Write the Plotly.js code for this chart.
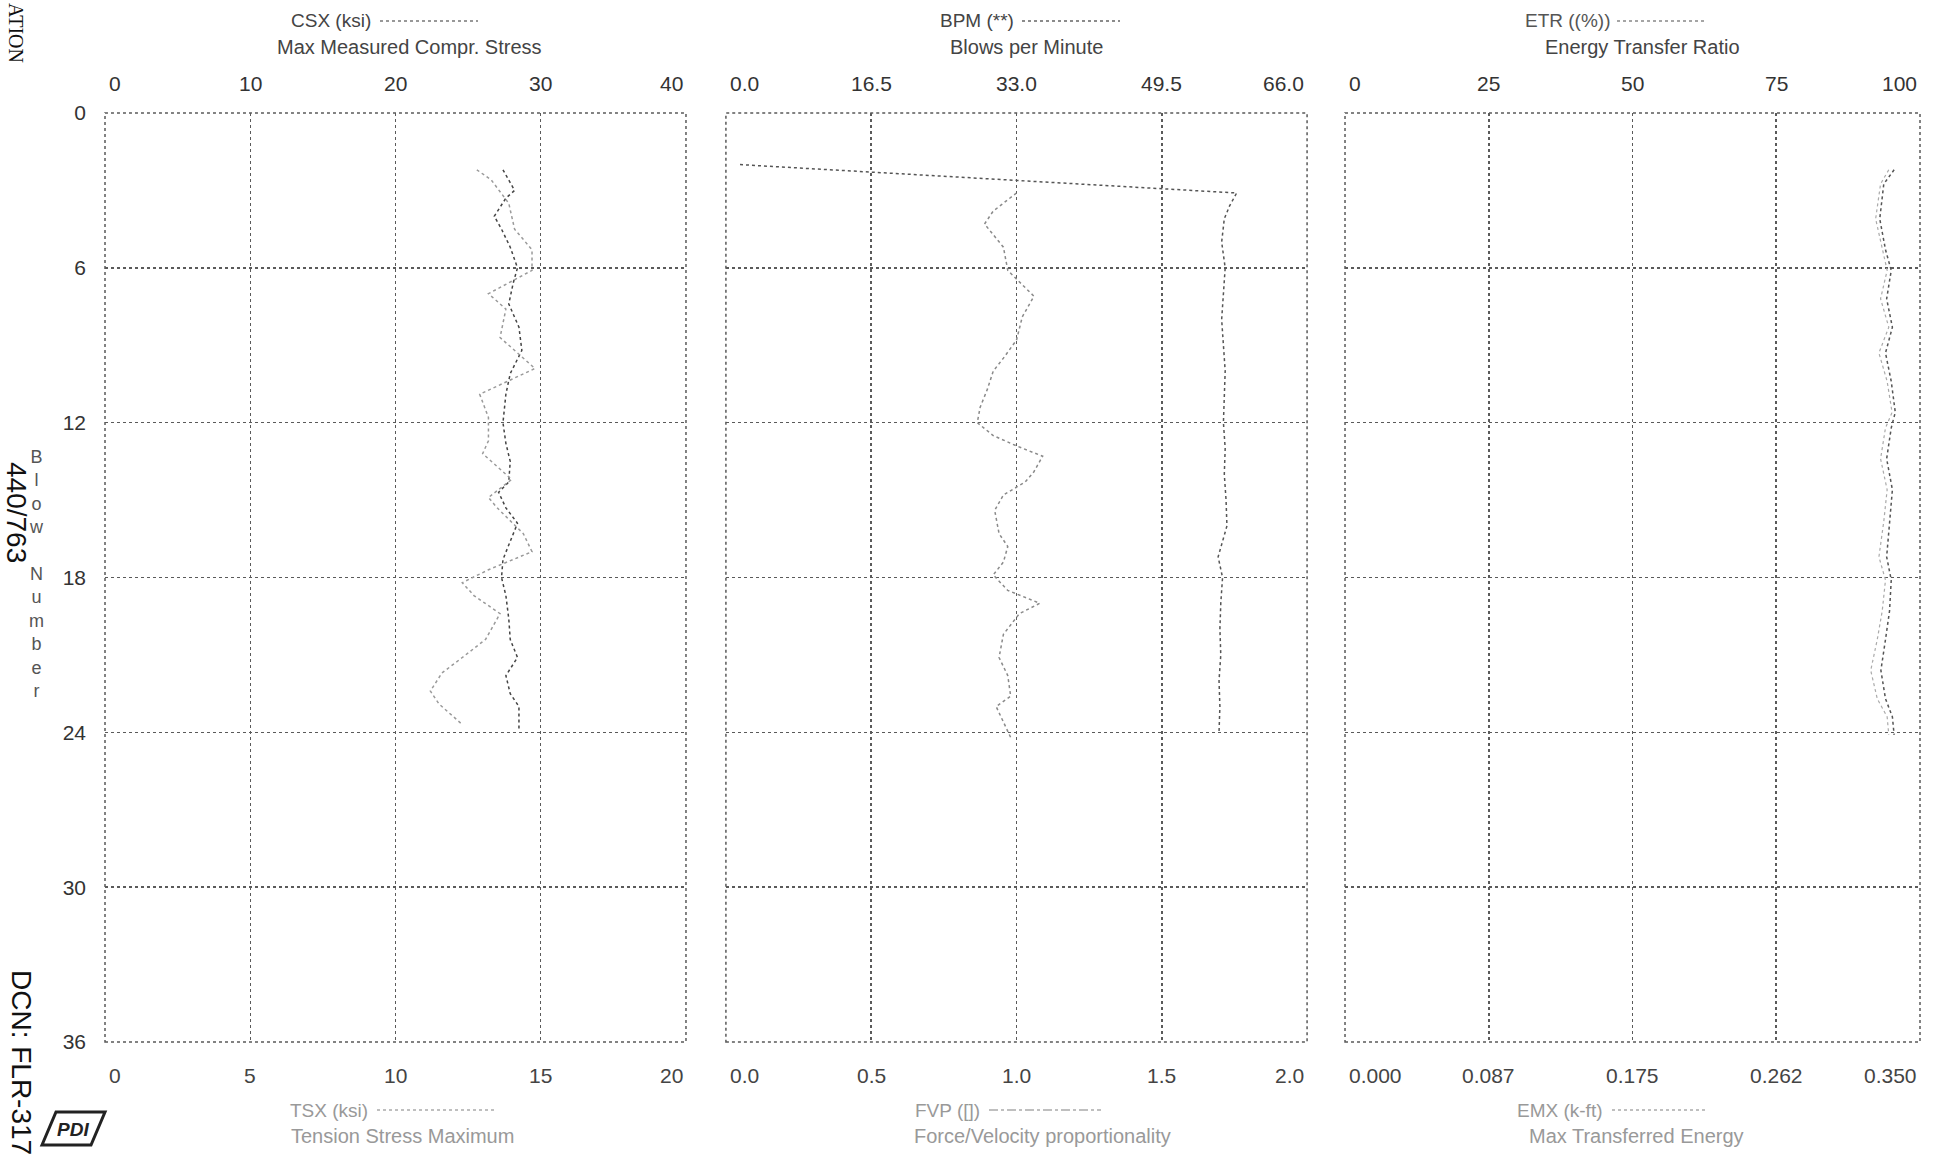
<!DOCTYPE html>
<html>
<head>
<meta charset="utf-8">
<script src="https://cdn.plot.ly/plotly-3.0.1.min.js"></script>
<style>html,body{margin:0;padding:0;background:#fff;}#chart{width:1940px;height:1157px;}</style>
</head>
<body>
<div id="chart"></div>
<script>
// ---- data ----
const csxBlow = [2.2,3.0,3.3,4.0,4.5,5.2,6.0,6.6,7.4,8.3,9.2,10.1,10.9,12.0,12.8,13.5,14.3,14.7,15.3,15.9,16.6,17.3,18.0,18.7,19.6,20.4,21.1,21.8,22.5,23.0,23.9];
const csxKsi  = [27.4,28.2,27.6,26.8,27.3,27.9,28.4,28.1,27.8,28.5,28.7,27.9,27.6,27.4,27.6,27.9,27.8,27.1,27.6,28.4,27.9,27.4,27.3,27.6,27.8,27.9,28.4,27.6,27.9,28.5,28.5];
const tsxBlow = [2.2,2.6,3.5,4.5,5.3,6.1,7.0,7.6,8.7,9.9,10.9,11.8,12.7,13.2,14.2,14.9,15.3,16.3,17.0,17.7,18.2,18.7,19.4,20.4,21.1,21.7,22.4,22.9,23.7];
const tsxKsi  = [12.8,13.3,13.9,14.1,14.7,14.7,13.2,13.8,13.6,14.8,12.9,13.2,13.2,13.0,14.0,13.2,13.5,14.4,14.7,13.2,12.3,12.7,13.6,13.1,12.3,11.6,11.2,11.5,12.3];
const bpmBlow = [2.0,3.1,3.6,4.1,5.0,6.0,7.0,8.0,9.0,10.0,11.0,12.0,13.0,14.0,15.0,16.0,17.2,18.0,19.0,20.0,21.0,22.0,23.0,24.0];
const bpmVal  = [1.6,58.0,57.2,56.6,56.3,56.7,56.5,56.3,56.5,56.7,56.6,56.5,56.7,56.6,56.8,56.9,55.9,56.4,56.2,56.1,56.2,56.0,56.1,56.0];
const fvpBlow = [3.1,3.8,4.3,5.2,6.1,7.1,7.9,8.8,9.5,10.0,10.7,11.4,12.0,12.5,12.9,13.3,13.9,14.3,14.8,15.4,16.3,16.8,17.4,17.9,18.5,19.0,19.4,20.2,21.1,21.8,22.6,23.0,23.6,24.2];
const fvpVal  = [1.00,0.92,0.89,0.955,0.97,1.06,1.02,1.00,0.955,0.92,0.90,0.875,0.865,0.92,1.00,1.09,1.06,1.03,0.955,0.925,0.94,0.97,0.955,0.92,0.97,1.08,1.01,0.955,0.94,0.97,0.98,0.93,0.955,0.98];
const etrBlow = [2.2,2.75,4.1,5.3,6.1,7.2,8.3,9.3,10.4,11.6,12.2,13.4,14.6,15.8,17.2,18.1,19.3,20.4,21.6,22.7,23.4,24.1];
const etrVal  = [95.5,93.7,93.0,94.0,95.0,94.2,95.2,94.0,95.0,95.7,95.0,94.2,95.2,94.7,94.2,95.0,94.7,94.0,93.2,94.0,95.2,95.5];
const emxVal  = [0.331,0.326,0.323,0.327,0.330,0.326,0.331,0.325,0.330,0.333,0.329,0.326,0.330,0.328,0.325,0.329,0.327,0.324,0.320,0.324,0.330,0.331];

const blowTicks = [0,6,12,18,24,30,36];
const csxTicks = [0,10,20,30,40];
const csxText  = ['0','10','20','30','40'];
const tsxTicks = [0,5,10,15,20];
const tsxText  = ['0','5','10','15','20'];
const bpmTicks = [0,16.5,33,49.5,66];
const bpmText  = ['0.0','16.5','33.0','49.5','66.0'];
const fvpTicks = [0,0.5,1,1.5,2];
const fvpText  = ['0.0','0.5','1.0','1.5','2.0'];
const etrTicks = [0,25,50,75,100];
const etrText  = ['0','25','50','75','100'];
const emxTicks = [0,0.0875,0.175,0.2625,0.35];
const emxText  = ['0.000','0.087','0.175','0.262','0.350'];

// ---- styling ----
const FONT = 'Liberation Sans, Arial, sans-serif';
const gridC = '#5a5a5a';

const traces = [
  {x: csxKsi, y: csxBlow, xaxis: 'x', yaxis: 'y', mode: 'lines', line: {color: '#444', width: 1.5, dash: 'dot'}},
  {x: tsxKsi, y: tsxBlow, xaxis: 'x4', yaxis: 'y', mode: 'lines', line: {color: '#9a9a9a', width: 1.5, dash: 'dot'}},
  {x: bpmVal, y: bpmBlow, xaxis: 'x2', yaxis: 'y2', mode: 'lines', line: {color: '#555', width: 1.5, dash: 'dot'}},
  {x: fvpVal, y: fvpBlow, xaxis: 'x5', yaxis: 'y2', mode: 'lines', line: {color: '#8a8a8a', width: 1.5, dash: 'dot'}},
  {x: etrVal, y: etrBlow, xaxis: 'x3', yaxis: 'y3', mode: 'lines', line: {color: '#555', width: 1.5, dash: 'dot'}},
  {x: emxVal, y: etrBlow, xaxis: 'x6', yaxis: 'y3', mode: 'lines', line: {color: '#aaa', width: 1.2, dash: 'dot'}}
];

function topAxis(domain, range, tv, anchor) {
  return {domain: domain, range: range, side: 'top', anchor: anchor, tickvals: tv,
    showgrid: true, gridcolor: gridC, griddash: 'dot', gridwidth: 1.5, zeroline: false,
    showline: false, ticks: '', showticklabels: false};
}
function botAxis(over, range, anchor) {
  return {overlaying: over, range: range, side: 'bottom', anchor: anchor,
    showgrid: false, zeroline: false, showline: false, ticks: '', showticklabels: false};
}
function yAx(anchor, showLabels) {
  return {domain: [0, 1], range: [36, 0], anchor: anchor, tickvals: blowTicks,
    showgrid: true, gridcolor: gridC, griddash: 'dot', gridwidth: 1.5, zeroline: false,
    showline: false, ticks: '', showticklabels: showLabels,
    tickfont: {family: FONT, size: 21, color: '#333'}, ticklabelstandoff: 18};
}

const L = 105, W = 1815, T = 113, H = 929;
const px = v => (v - L) / W;
const py = v => (T + H - v) / H;

const ann = [];
const shp = [];
function label(x, y, text, size, color, opts) {
  ann.push(Object.assign({xref: 'paper', yref: 'paper', x: px(x), y: py(y), text: text, showarrow: false,
    xanchor: 'center', yanchor: 'middle', font: {family: FONT, size: size, color: color}}, opts || {}));
}
function lineSample(x0, x1, y, color, dash) {
  shp.push({type: 'line', xref: 'paper', yref: 'paper', x0: px(x0), x1: px(x1), y0: py(y), y1: py(y),
    line: {color: color, width: 1.3, dash: dash}});
}
// tick labels as annotations placed on the axis values (ends aligned inward as in the original)
function tickLabels(axRef, vals, texts, yPix, color) {
  vals.forEach((v, i) => {
    const first = i === 0, last = i === vals.length - 1;
    ann.push({xref: axRef, yref: 'paper', x: v, y: py(yPix), text: texts[i], showarrow: false,
      xanchor: first ? 'left' : (last ? 'right' : 'center'), yanchor: 'middle',
      xshift: first ? 2 : (last ? -1 : 0),
      font: {family: FONT, size: 21, color: color}});
  });
}
tickLabels('x', csxTicks, csxText, 83, '#333');
tickLabels('x2', bpmTicks, bpmText, 83, '#333');
tickLabels('x3', etrTicks, etrText, 83, '#333');
tickLabels('x4', tsxTicks, tsxText, 1075, '#444');
tickLabels('x5', fvpTicks, fvpText, 1075, '#444');
tickLabels('x6', emxTicks, emxText, 1075, '#444');

// panel borders (dotted like the grid)
['x', 'x2', 'x3'].forEach((xa, i) => {
  const ya = i === 0 ? 'y' : 'y' + (i + 1);
  shp.push({type: 'rect', xref: xa + ' domain', yref: ya + ' domain', x0: 0, x1: 1, y0: 0, y1: 1,
    line: {color: gridC, width: 1.5, dash: 'dot'}, layer: 'below'});
});

// top titles
const TS = 19, SS = 20;
label(331, 21, 'CSX (ksi)', TS, '#444'); lineSample(380, 478, 21, '#777', 'dot');
label(409, 47, 'Max Measured Compr. Stress', SS, '#444');
label(977, 21, 'BPM (**)', TS, '#444'); lineSample(1022, 1120, 21, '#666', 'dot');
label(1026, 47, 'Blows per Minute', SS, '#444');
label(1567, 21, 'ETR ((%))', TS, '#555'); lineSample(1617, 1707, 21, '#888', 'dot');
label(1642, 47, 'Energy Transfer Ratio', SS, '#444');
// bottom titles
label(329, 1110, 'TSX (ksi)', TS, '#999'); lineSample(377, 495, 1110, '#aaa', 'dot');
label(402, 1136, 'Tension Stress Maximum', SS, '#999');
label(947, 1110, 'FVP ([])', TS, '#999'); lineSample(989, 1101, 1110, '#aaa', 'dashdot');
label(1042, 1136, 'Force/Velocity proportionality', SS, '#999');
label(1560, 1110, 'EMX (k-ft)', TS, '#999'); lineSample(1612, 1707, 1110, '#aaa', 'dot');
label(1636, 1136, 'Max Transferred Energy', SS, '#999');
// side texts
label(36, 574, 'B<br>l<br>o<br>w<br> <br>N<br>u<br>m<br>b<br>e<br>r', 18, '#555');
label(17, 512, '440/763', 28, '#111', {textangle: 90});
label(22, 1062, 'DCN: FLR-317', 28, '#111', {textangle: 90});
label(16, 33, 'ATION', 20, '#111', {textangle: 90, font: {family: 'Liberation Serif, serif', size: 20, color: '#111'}});
// logo
shp.push({type: 'path', xref: 'paper', yref: 'paper',
  path: 'M ' + px(42) + ',' + py(1145) + ' L ' + px(56) + ',' + py(1112) + ' L ' + px(105) + ',' + py(1112) +
        ' L ' + px(91) + ',' + py(1145) + ' Z', line: {color: '#222', width: 3}});
label(73, 1129, '<b><i>PDI</i></b>', 19, '#222');

const layout = {
  width: 1940, height: 1157,
  margin: {l: L, r: 1940 - L - W, t: T, b: 1157 - T - H, pad: 0},
  paper_bgcolor: '#fff', plot_bgcolor: '#fff',
  showlegend: false,
  xaxis:  topAxis([0, 0.3201], [0, 40], csxTicks, 'y'),
  xaxis2: topAxis([0.3421, 0.6623], [0, 66], bpmTicks, 'y2'),
  xaxis3: topAxis([0.6832, 1], [0, 100], etrTicks, 'y3'),
  xaxis4: botAxis('x', [0, 20], 'y'),
  xaxis5: botAxis('x2', [0, 2], 'y2'),
  xaxis6: botAxis('x3', [0, 0.35], 'y3'),
  yaxis:  yAx('x', true),
  yaxis2: yAx('x2', false),
  yaxis3: yAx('x3', false),
  annotations: ann,
  shapes: shp
};

Plotly.newPlot('chart', traces, layout, {displayModeBar: false, staticPlot: true});
</script>
</body>
</html>
